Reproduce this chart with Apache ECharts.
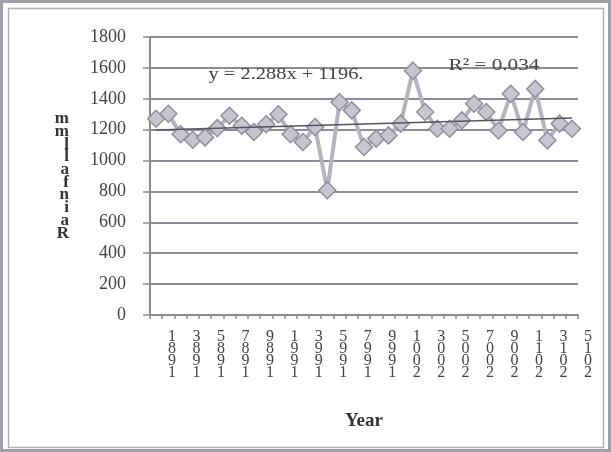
<!DOCTYPE html>
<html>
<head>
<meta charset="utf-8">
<script src="https://cdn.jsdelivr.net/npm/echarts@6/dist/echarts.min.js"></script>
<style>
html,body{margin:0;padding:0;background:#fff;}
#c{width:611px;height:452px;}
</style>
</head>
<body>
<div id="c"></div>
<script>
const years = ["1981","1982","1983","1984","1985","1986","1987","1988","1989","1990",
  "1991","1992","1993","1994","1995","1996","1997","1998","1999","2000",
  "2001","2002","2003","2004","2005","2006","2007","2008","2009","2010",
  "2011","2012","2013","2014","2015"];
const rainfall = [1271,1303,1170,1135,1150,1210,1290,1225,1185,1235,
  1300,1170,1120,1217,808,1378,1325,1088,1142,1163,
  1239,1582,1314,1206,1206,1260,1368,1314,1195,1432,
  1185,1464,1131,1239,1206];
const trendEnds = [1198, 1276];
const yTicks = [0,200,400,600,800,1000,1200,1400,1600,1800];
const eqText = "y = 2.288x + 1196.";
const r2Text = "R\u00b2 = 0.034";

const trend = years.map((_, i) => i === 0 ? trendEnds[0] : (i === years.length - 1 ? trendEnds[1] : null));
const serif = "Liberation Serif";

const chart = echarts.init(document.getElementById('c'), null, {renderer:'canvas'});
chart.setOption({
  animation:false,
  backgroundColor:'#ffffff',
  grid:[
    {left:150, right:33, top:37, bottom:137},
    {left:166, right:17, top:37, bottom:137}
  ],
  xAxis:[{
    type:'category', data:years, boundaryGap:true, gridIndex:0,
    name:'Year', nameLocation:'middle', nameGap:97,
    nameTextStyle:{fontFamily:serif, fontSize:19, fontWeight:'bold', color:'#333'},
    axisLine:{lineStyle:{color:'#8a8a94', width:2}},
    axisTick:{show:true, interval:0, length:4, lineStyle:{color:'#8a8a94', width:1.5}},
    axisLabel:{show:false},
    splitLine:{show:false}
  },{
    type:'category', data:years, boundaryGap:true, gridIndex:1,
    axisLine:{show:false}, axisTick:{show:false}, splitLine:{show:false},
    axisLabel:{
      interval:(idx) => idx % 2 === 0, hideOverlap:false,
      margin:16, fontFamily:serif, fontSize:16, lineHeight:11.8, color:'#444',
      formatter: v => v.split('').reverse().join('\n')
    }
  }],
  yAxis:[{
    type:'value', min:0, max:1800, interval:200, gridIndex:0,
    name:'m\nm\nl\nl\na\nf\nn\ni\na\nR', nameLocation:'middle', nameRotate:0, nameGap:81,
    nameTextStyle:{fontFamily:serif, fontSize:17, fontWeight:'bold', lineHeight:12.7, color:'#333', padding:[10,0,0,0]},
    axisLine:{show:true, lineStyle:{color:'#8a8a94', width:2}},
    axisTick:{show:true, length:7, lineStyle:{color:'#8a8a94', width:1.5}},
    axisLabel:{margin:24, fontFamily:serif, fontSize:18, color:'#444',
      formatter: v => yTicks.includes(v) ? String(v) : ''},
    splitLine:{lineStyle:{color:'#8c8c98', width:2}}
  },{
    type:'value', min:0, max:1800, interval:200, gridIndex:1, show:false
  }],
  series:[
    {
      type:'line', data:rainfall, symbol:'diamond', symbolSize:17, showAllSymbol:true,
      lineStyle:{color:'#b4b4be', width:4},
      itemStyle:{color:'#c6c6d0', borderColor:'#90909c', borderWidth:1.5},
      z:3
    },
    {
      type:'line', data:trend, connectNulls:true, symbol:'none',
      lineStyle:{color:'#555560', width:1.6}, z:4
    }
  ],
  graphic:[
    {type:'rect', shape:{x:1.5, y:1.5, width:608, height:449}, style:{fill:'none', stroke:'#a0a0a8', lineWidth:3}, z:-1, silent:true},
    {type:'rect', shape:{x:8.5, y:8.5, width:595, height:439}, style:{fill:'none', stroke:'#b0b0b8', lineWidth:1.5}, z:-1, silent:true},
    {type:'text', x:286, y:75, scaleX:1.2, style:{text:eqText, fontFamily:serif, fontSize:17, fill:'#444', align:'center', verticalAlign:'middle'}, z:10},
    {type:'text', x:494, y:66, scaleX:1.25, style:{text:r2Text, fontFamily:serif, fontSize:17, fill:'#444', align:'center', verticalAlign:'middle'}, z:10}
  ]
});
</script>
</body>
</html>
